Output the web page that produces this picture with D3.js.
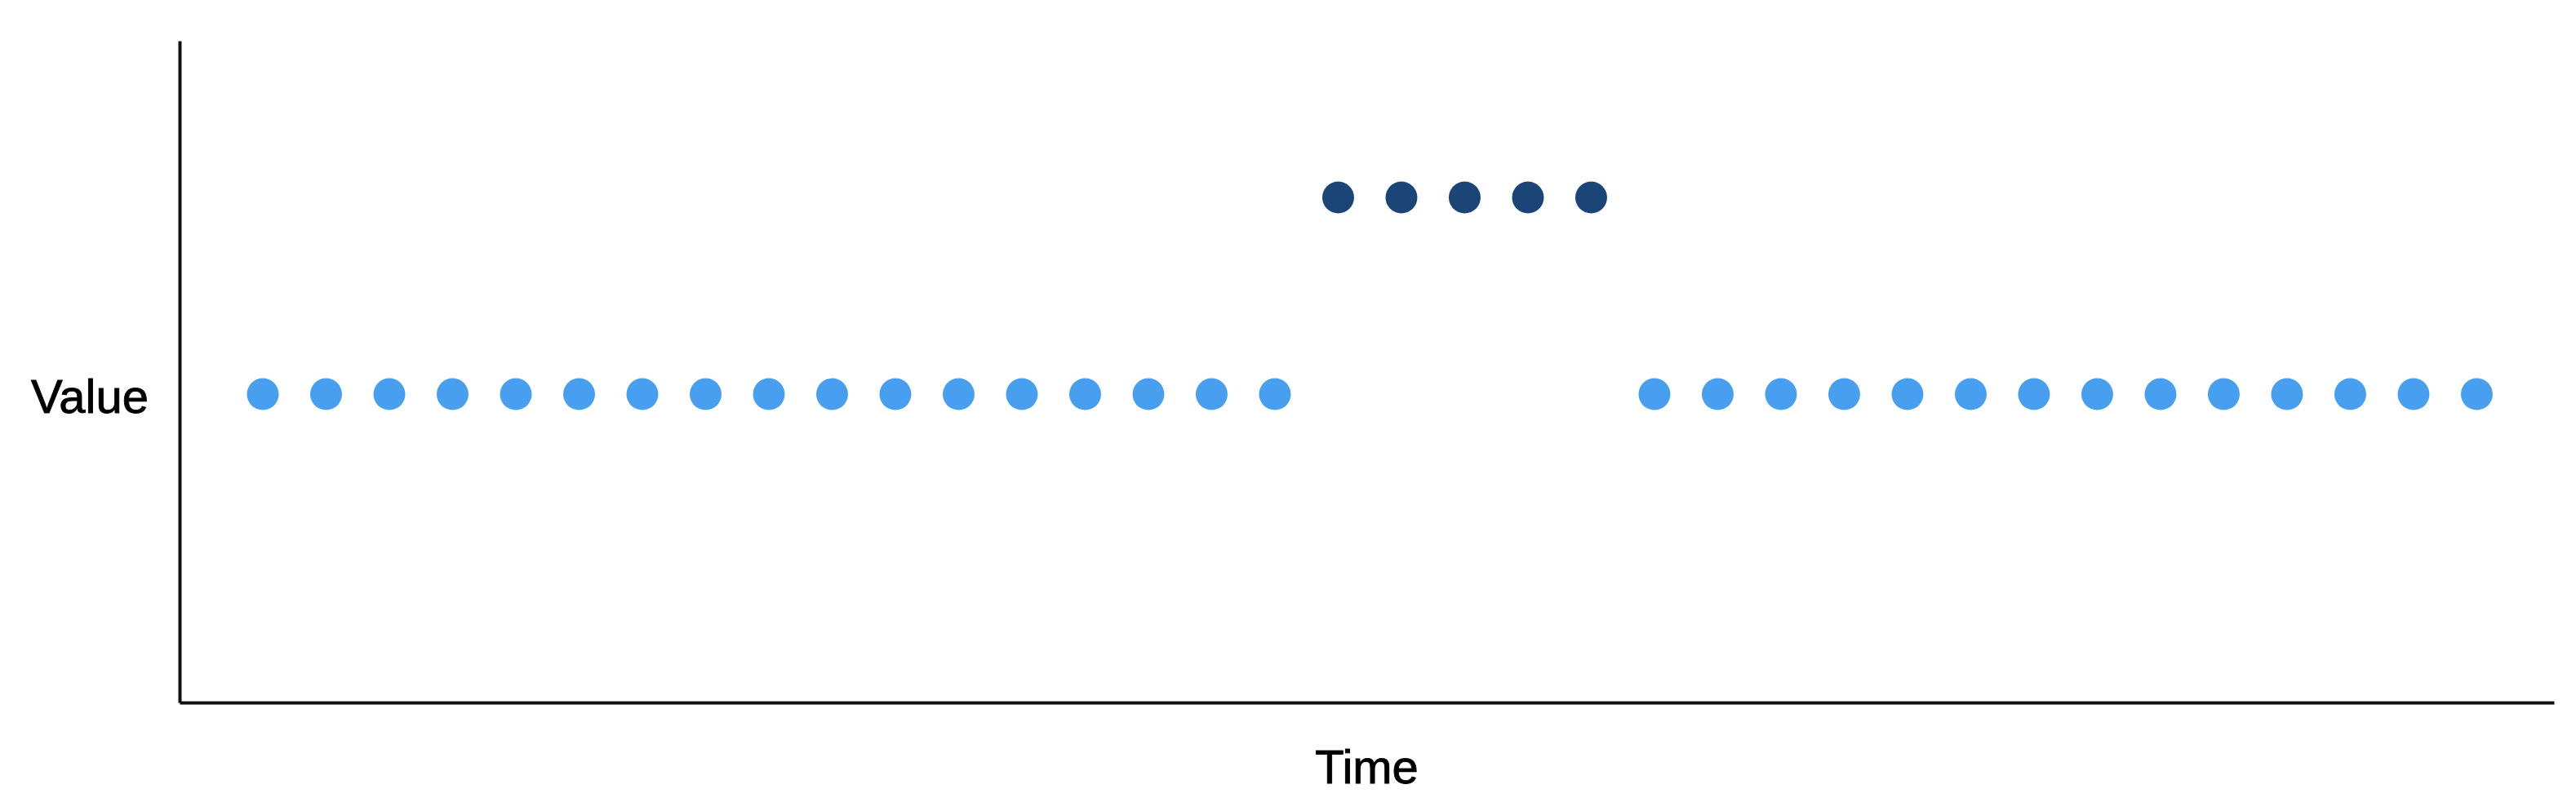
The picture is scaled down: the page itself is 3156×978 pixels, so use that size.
<!DOCTYPE html>
<html>
<head>
<meta charset="utf-8">
<script src="https://cdn.jsdelivr.net/npm/d3@7"></script>
<style>
  html, body { margin: 0; padding: 0; background: #ffffff; }
  svg { display: block; }
  text { font-family: "Liberation Sans", Arial, Helvetica, sans-serif; fill: #000; stroke: #000; stroke-width: 0.9px; }
</style>
</head>
<body>
<svg id="chart" width="3156" height="978"></svg>
<script>
// ---- data ----
const timeIndex = d3.range(36);
const values = [
  1,1,1,1,1,1,1,1,1,1,1,1,1,1,1,1,1,
  2,2,2,2,2,
  1,1,1,1,1,1,1,1,1,1,1,1,1,1
];
const isAnomaly = [
  0,0,0,0,0,0,0,0,0,0,0,0,0,0,0,0,0,
  1,1,1,1,1,
  0,0,0,0,0,0,0,0,0,0,0,0,0,0
];
const xLabel = "Time";
const yLabel = "Value";
const normalColor = "#489ff0";
const anomalyColor = "#1b4577";

// ---- layout ----
const W = 3156, H = 978;
const mLeft = 220, mRight = 3129, mTop = 50, mBottom = 861;

const svg = d3.select("#chart");
svg.append("rect").attr("width", W).attr("height", H).attr("fill", "#ffffff");

const x = d3.scaleLinear().domain([-1.316, 36.22]).range([mLeft, mRight]);
const y = d3.scaleLinear().domain([-0.568, 2.797]).range([mBottom, mTop]);

const xAxis = d3.axisBottom(x).ticks(0).tickSizeOuter(0);
const yAxis = d3.axisLeft(y).ticks(0).tickSizeOuter(0);

svg.append("g").attr("transform", `translate(0,${mBottom})`).call(xAxis)
  .call(g => g.select(".domain").attr("stroke", "#111").attr("stroke-width", 4));
svg.append("g").attr("transform", `translate(${mLeft},0)`).call(yAxis)
  .call(g => g.select(".domain").attr("stroke", "#111").attr("stroke-width", 4));

svg.append("g").selectAll("circle")
  .data(timeIndex)
  .join("circle")
  .attr("cx", i => x(i))
  .attr("cy", i => y(values[i]))
  .attr("r", 19.5)
  .attr("fill", i => isAnomaly[i] ? anomalyColor : normalColor);

svg.append("text")
  .attr("x", (mLeft + mRight) / 2)
  .attr("y", 960)
  .attr("text-anchor", "middle")
  .attr("font-size", 58)
  .text(xLabel);

svg.append("text")
  .attr("x", 182)
  .attr("y", 506)
  .attr("text-anchor", "end")
  .attr("font-size", 58)
  .text(yLabel);
</script>
</body>
</html>
